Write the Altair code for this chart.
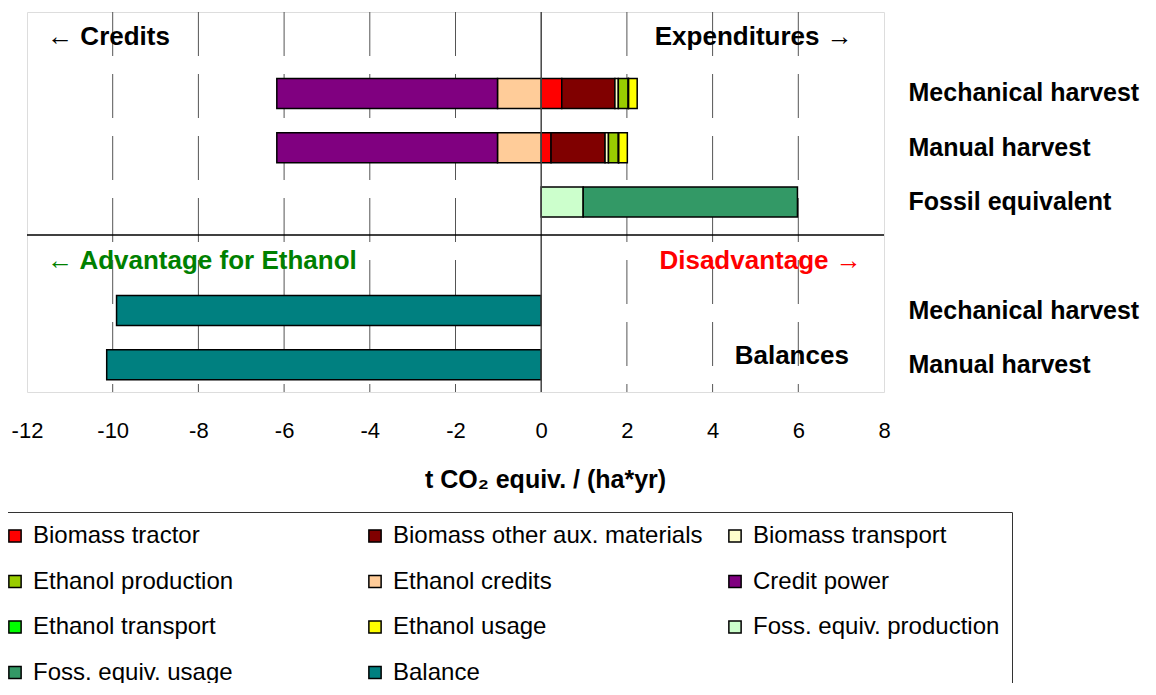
import altair as alt
import pandas as pd

# ---------------- data ----------------
rows = ["hdr1", "Mechanical harvest", "Manual harvest", "Fossil equivalent",
        "hdr2", "Mechanical harvest ", "Manual harvest "]

categories = ["Biomass tractor", "Biomass other aux. materials", "Biomass transport",
              "Ethanol production", "Ethanol credits", "Credit power",
              "Ethanol transport", "Ethanol usage", "Foss. equiv. production",
              "Foss. equiv. usage", "Balance"]
colors = ["#FF0000", "#800000", "#FFFFCC", "#99CC00", "#FFCC99", "#800080",
          "#00FF00", "#FFFF00", "#CCFFCC", "#339966", "#008080"]

ethanol_cats = ["Biomass tractor", "Biomass other aux. materials", "Biomass transport",
                "Ethanol production", "Ethanol transport", "Ethanol usage",
                "Ethanol credits", "Credit power"]
mechanical_vals = [0.48, 1.24, 0.08, 0.23, 0.01, 0.20, -1.02, -5.15]
manual_vals = [0.23, 1.26, 0.08, 0.23, 0.01, 0.20, -1.02, -5.15]

fossil_cats = ["Foss. equiv. production", "Foss. equiv. usage"]
fossil_vals = [0.98, 5.00]

balance_rows = ["Mechanical harvest ", "Manual harvest "]
balance_vals = [-9.91, -10.14]

tick_values = [-12, -10, -8, -6, -4, -2, 0, 2, 4, 6, 8]
grid_values = [-10, -8, -6, -4, -2, 2, 4, 6]

# header texts: (text, x position in data units, row)
left_black = [("← Credits", -11.53, "hdr1")]
right_black = [("Expenditures →", 7.27, "hdr1")]
left_green = [("← Advantage for Ethanol", -11.53, "hdr2")]
right_red = [("Disadvantage →", 7.48, "hdr2")]
balances_txt = [("Balances", 7.18, "Manual harvest ")]

# ---------------- table ----------------
recs = []
for c, v in zip(ethanol_cats, mechanical_vals):
    recs.append({"row": "Mechanical harvest", "cat": c, "value": v})
for c, v in zip(ethanol_cats, manual_vals):
    recs.append({"row": "Manual harvest", "cat": c, "value": v})
for c, v in zip(fossil_cats, fossil_vals):
    recs.append({"row": "Fossil equivalent", "cat": c, "value": v})
for r, v in zip(balance_rows, balance_vals):
    recs.append({"row": r, "cat": "Balance", "value": v})
df = pd.DataFrame(recs)
df["ord"] = df["cat"].map({c: i for i, c in enumerate(categories)})

FONT = "Liberation Sans, Arial, sans-serif"
NARROW = "Liberation Sans Narrow, Arial Narrow, Liberation Sans, Arial, sans-serif"
TITLE = "t CO₂ equiv. / (ha*yr)"

xscale = alt.Scale(domain=[-12, 8], nice=False, zero=False)
yscale = alt.Scale(domain=rows, paddingInner=0, paddingOuter=0)

xaxis = alt.Axis(values=tick_values, title=TITLE, grid=False,
                 domain=False, ticks=False, labelFlush=False,
                 labelExpr="'' + datum.value",
                 labelFont=NARROW, labelFontSize=22, labelColor="black",
                 labelPadding=28, titleFont=NARROW, titleFontSize=25,
                 titleFontWeight="bold", titleColor="black",
                 titlePadding=26, titleX=518, titleAlign="center")
yaxis = alt.Axis(orient="right", title=None, domain=False, ticks=False,
                 grid=False, labelAlign="left", labelPadding=24,
                 labelFont=FONT, labelFontSize=25, labelFontWeight="bold",
                 labelColor="black", labelLimit=400,
                 labelExpr="indexof(datum.label, 'hdr') >= 0 ? '' : datum.label")

grid = alt.Chart(pd.DataFrame({"value": grid_values})).mark_rule(
    color="#555555", strokeWidth=1, strokeDash=[44, 18]).encode(
    x=alt.X("value:Q", scale=xscale, axis=xaxis, title=TITLE))

bars = alt.Chart(df).mark_bar(size=30, stroke="black", strokeWidth=1.5).encode(
    x=alt.X("value:Q", stack="zero", scale=xscale, axis=xaxis, title=TITLE),
    y=alt.Y("row:N", scale=yscale, sort=rows, axis=yaxis, title=None),
    color=alt.Color("cat:N", sort=categories,
                    scale=alt.Scale(domain=categories, range=colors),
                    legend=alt.Legend(orient="none", legendX=-36, legendY=500,
                                      direction="horizontal",
                                      columns=3, title=None, symbolType="square",
                                      symbolSize=150, symbolStrokeColor="black",
                                      symbolStrokeWidth=1.5, symbolOpacity=1,
                                      labelFont=FONT, labelFontSize=24,
                                      labelColor="black", labelLimit=500,
                                      labelOffset=6, rowPadding=21.5,
                                      columnPadding=20, gridAlign="all",
                                      padding=12, strokeColor="#333333",
                                      fillColor="white")),
    order=alt.Order("ord:Q"),
)

zero_rule = alt.Chart(pd.DataFrame({"value": [0]})).mark_rule(
    color="#444444", strokeWidth=1.5).encode(
    x=alt.X("value:Q", scale=xscale, axis=xaxis, title=TITLE))

sep_rule = alt.Chart(pd.DataFrame({"s": [0]})).mark_rule(
    color="black", strokeWidth=1.5).encode(
    y=alt.value(223), x=alt.value(0), x2=alt.value(857))


def txt(items, align, color, dy):
    d = pd.DataFrame(items, columns=["text", "value", "row"])
    return alt.Chart(d).mark_text(align=align, baseline="middle", dy=dy,
                                  font=FONT, fontSize=26, fontWeight="bold",
                                  color=color).encode(
        x=alt.X("value:Q", scale=xscale, axis=xaxis, title=TITLE),
        y=alt.Y("row:N", scale=yscale, sort=rows, axis=yaxis, title=None),
        text="text:N")


t1 = txt(left_black, "left", "black", -2)
t2 = txt(right_black, "right", "black", -2)
t3 = txt(left_green, "left", "#008000", 5)
t4 = txt(right_red, "right", "#FF0000", 5)
t5 = txt(balances_txt, "right", "black", -9)

chart = alt.layer(grid, bars, zero_rule, sep_rule, t1, t2, t3, t4, t5).properties(
    width=857, height=380,
    autosize=alt.AutoSizeParams(type="none"),
    padding={"left": 19, "top": 4, "right": 262, "bottom": 291},
).configure_view(stroke="#808080", strokeWidth=1.5).configure(background="white")

chart.save("out.html", embed_options={"renderer": "svg", "actions": False})
